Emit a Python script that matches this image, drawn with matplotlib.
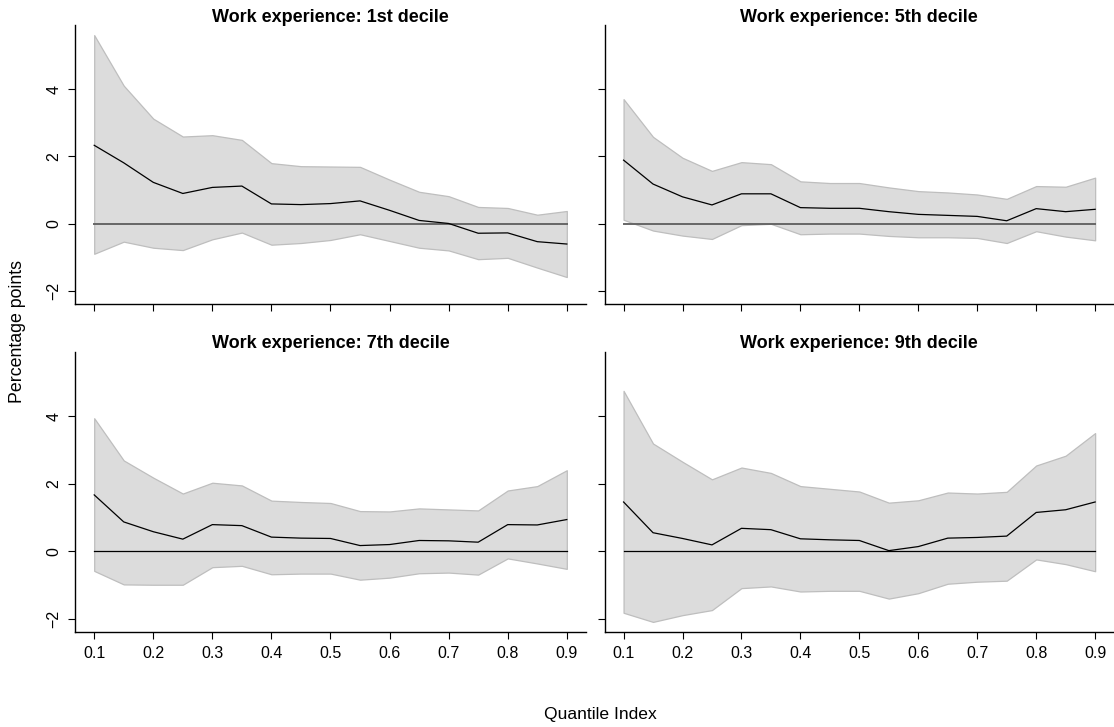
import matplotlib
matplotlib.use("Agg")
import matplotlib.pyplot as plt
import numpy as np

plt.rcParams["font.family"] = ["Liberation Sans", "DejaVu Sans"]

# quantile grid shared by every panel
quantiles = [0.1, 0.15, 0.2, 0.25, 0.3, 0.35, 0.4, 0.45, 0.5,
             0.55, 0.6, 0.65, 0.7, 0.75, 0.8, 0.85, 0.9]

titles = ["Work experience: 1st decile", "Work experience: 5th decile",
          "Work experience: 7th decile", "Work experience: 9th decile"]

# 1st decile
est_d1 = [2.33, 1.81, 1.23, 0.90, 1.08, 1.12, 0.59, 0.57, 0.60, 0.68,
          0.40, 0.10, 0.01, -0.28, -0.27, -0.53, -0.60]
hi_d1 = [5.60, 4.10, 3.12, 2.59, 2.63, 2.49, 1.80, 1.71, 1.70, 1.69,
         1.31, 0.95, 0.82, 0.50, 0.47, 0.27, 0.38]
lo_d1 = [-0.89, -0.53, -0.71, -0.78, -0.46, -0.26, -0.62, -0.57, -0.48,
         -0.31, -0.51, -0.71, -0.79, -1.05, -1.01, -1.30, -1.58]

# 5th decile
est_d5 = [1.89, 1.18, 0.80, 0.56, 0.89, 0.89, 0.48, 0.46, 0.46, 0.36,
          0.28, 0.25, 0.22, 0.09, 0.45, 0.36, 0.43]
hi_d5 = [3.70, 2.58, 1.96, 1.57, 1.83, 1.77, 1.26, 1.21, 1.21, 1.08,
         0.97, 0.93, 0.87, 0.74, 1.12, 1.10, 1.37]
lo_d5 = [0.12, -0.20, -0.35, -0.45, -0.04, 0.0, -0.31, -0.29, -0.29,
         -0.36, -0.40, -0.40, -0.42, -0.57, -0.22, -0.38, -0.49]

# 7th decile
est_d7 = [1.67, 0.87, 0.58, 0.36, 0.79, 0.76, 0.42, 0.39, 0.38, 0.17,
          0.20, 0.32, 0.31, 0.27, 0.79, 0.78, 0.94]
hi_d7 = [3.94, 2.69, 2.18, 1.71, 2.03, 1.95, 1.50, 1.46, 1.43, 1.19,
         1.18, 1.27, 1.24, 1.21, 1.80, 1.93, 2.40]
lo_d7 = [-0.58, -0.98, -0.99, -0.99, -0.47, -0.43, -0.68, -0.66, -0.66,
         -0.84, -0.78, -0.65, -0.63, -0.69, -0.21, -0.36, -0.52]

# 9th decile
est_d9 = [1.46, 0.55, 0.38, 0.19, 0.68, 0.64, 0.37, 0.34, 0.32, 0.02,
          0.14, 0.39, 0.41, 0.45, 1.15, 1.23, 1.46]
hi_d9 = [4.75, 3.19, 2.65, 2.13, 2.48, 2.32, 1.93, 1.85, 1.77, 1.44,
         1.51, 1.74, 1.71, 1.76, 2.54, 2.83, 3.50]
lo_d9 = [-1.82, -2.09, -1.89, -1.74, -1.09, -1.04, -1.19, -1.17, -1.17,
         -1.40, -1.24, -0.96, -0.90, -0.87, -0.24, -0.38, -0.59]

panels = [(est_d1, hi_d1, lo_d1), (est_d5, hi_d5, lo_d5),
          (est_d7, hi_d7, lo_d7), (est_d9, hi_d9, lo_d9)]

W, H = 1114, 727
fig = plt.figure(figsize=(W / 100, H / 100), dpi=100)

# panel boxes in pixels: left, top, right, bottom
boxes = [(75.3, 25, 585.7, 304), (604.7, 25, 1114, 304),
         (75.3, 352, 585.7, 631.7), (604.7, 352, 1114, 631.7)]

x = np.array(quantiles)
xlim = (0.068, 0.932)
ylim = (-2.38, 5.9)

for i, ((est, hi, lo), title, (l, t, r, b)) in enumerate(zip(panels, titles, boxes)):
    ax = fig.add_axes([l / W, 1 - b / H, (r - l) / W, (b - t) / H])
    ax.fill_between(x, lo, hi, facecolor="#dcdcdc", edgecolor="#bebebe", linewidth=0.9)
    if i < 2:
        ax.plot([x[0], x[-1]], [0, 0], color="#666666", lw=1.4)
    else:
        ax.plot([x[0], x[-1]], [0, 0], color="black", lw=0.9)
    ax.plot(x, est, color="black", lw=0.9)

    ax.set_xlim(*xlim)
    ax.set_ylim(*ylim)
    for s in ["top", "right"]:
        ax.spines[s].set_visible(False)
    for s in ["left", "bottom"]:
        ax.spines[s].set_linewidth(1.0)
    ax.set_xticks([0.1, 0.2, 0.3, 0.4, 0.5, 0.6, 0.7, 0.8, 0.9])
    ax.set_yticks([-2, 0, 2, 4])
    ax.tick_params(direction="out", length=5.2, width=0.8, labelsize=11.5, pad=5)
    if i >= 2:
        ax.set_xticklabels(["0.1", "0.2", "0.3", "0.4", "0.5", "0.6", "0.7", "0.8", "0.9"])
    else:
        ax.set_xticklabels([])
    if i % 2 == 0:
        ax.set_yticklabels(["\u22122", "0", "2", "4"], rotation=90, va="center")
    else:
        ax.set_yticklabels([])

    fig.text((l + r) / 2 / W, 1 - (t - 8) / H, title, ha="center", va="center",
             fontsize=13, fontweight="bold")

fig.text(18 / W, 1 - 332 / H, "Percentage points", rotation=90,
         ha="center", va="center", fontsize=12.8)
fig.text(600 / W, 1 - 714 / H, "Quantile Index", ha="center", va="center",
         fontsize=12.6)

fig.savefig("out.png", dpi=100)
